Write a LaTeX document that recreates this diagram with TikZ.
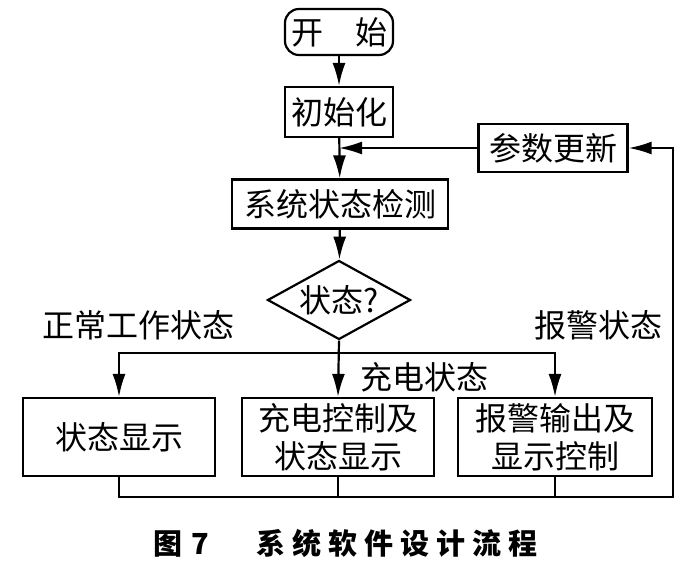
\documentclass[tikz,border=0pt]{standalone}
\usepackage{fontspec}
\newfontfamily\cjk{Noto Sans CJK SC}
\usetikzlibrary{arrows.meta,shapes.geometric}

\begin{document}
\begin{tikzpicture}[x=1pt,y=-1pt,line width=2.2pt,
    txt/.style={font=\cjk\fontsize{32}{38}\selectfont,align=center,inner sep=0pt},
    box/.style={txt,draw},
    startbox/.style={box,rounded corners=14pt,minimum width=108pt,minimum height=46pt},
    decision/.style={txt,draw,diamond,aspect=1.8,minimum width=143pt,minimum height=79pt},
    arr/.style={-{Latex[length=23pt,width=13pt]}}]
  \useasboundingbox (0,0) rectangle (693,580);
  % main chain
  \node[startbox] (start) at (339,32) {开\hspace{1em}始};
  \node[box,minimum width=108pt,minimum height=50pt] (init) at (339,112) {初始化};
  \node[box,minimum width=216pt,minimum height=49pt] (check) at (340,204) {系统状态检测};
  \node[decision] (state) at (339,300) {状态?};
  \node[box,minimum width=149pt,minimum height=48pt] (param) at (553,148) {参数更新};
  % three branches
  \node[box,minimum width=192pt,minimum height=78pt] (show) at (119,437) {状态显示};
  \node[box,minimum width=192pt,minimum height=78pt] (charge) at (338,437) {充电控制及\\状态显示};
  \node[box,minimum width=194pt,minimum height=78pt] (alarm) at (555,437) {报警输出及\\显示控制};
  % labels
  \node[txt] (lnormal) at (138,325) {正常工作状态};
  \node[txt] (lalarm) at (598,325) {报警状态};
  \node[txt] (lcharge) at (424,377) {充电状态};
  \node[txt,font=\cjk\bfseries\fontsize{29}{32}\selectfont,anchor=west] (cap) at (152,543)
    {图\hspace{9pt}7\hspace{48pt}系\hspace{7pt}统\hspace{7pt}软\hspace{7pt}件\hspace{7pt}设\hspace{7pt}计\hspace{7pt}流\hspace{7pt}程};
  \coordinate (split) at (339,353);
  \coordinate (corner) at (673,497);
  % connectors
  \draw[arr] (start) -- (init);
  \draw[arr] (init) -- (check);
  \draw[arr] (check) -- (state);
  \draw[arr] (state.south) -- (charge.north);
  \draw[arr] (split) -| (show.north);
  \draw[arr] (split) -| (alarm.north);
  \draw[arr] (show.south) |- (corner) |- (param.east);
  \draw (charge.south) -- (charge.south |- corner);
  \draw (alarm.south) -- (alarm.south |- corner);
  \draw[arr] (param.west) -- (param.west -| init.south);
\end{tikzpicture}
\end{document}
